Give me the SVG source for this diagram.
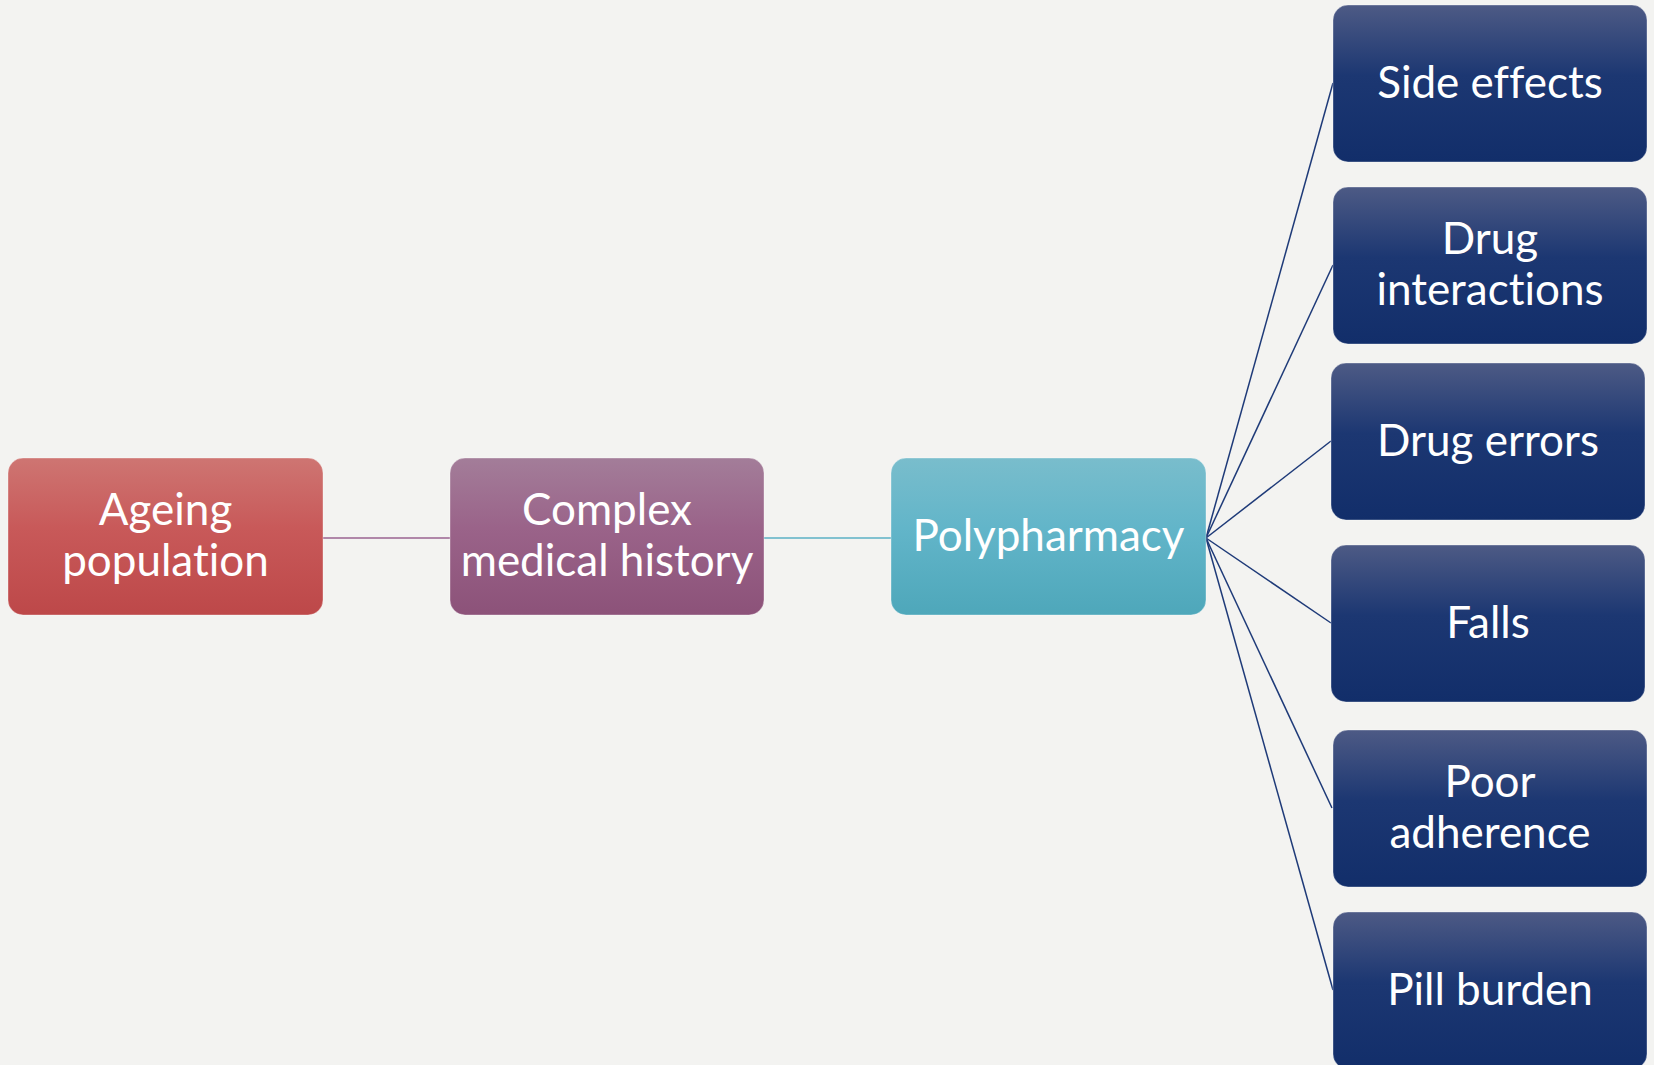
<svg xmlns="http://www.w3.org/2000/svg" width="1654" height="1065" viewBox="0 0 1654 1065">
<style>
.lbl{font-family:Lato,"Open Sans","Liberation Sans",sans-serif;font-size:44px;fill:#fff;text-anchor:middle;font-variant-ligatures:none;font-feature-settings:"liga" 0,"clig" 0}
.box{stroke:#fff;stroke-opacity:0.35;stroke-width:1}
.fan{stroke:#1E3A78;stroke-width:1.5;fill:none}
</style>
<defs>
<linearGradient id="gRed" x1="0" y1="0" x2="0" y2="1"><stop offset="0" stop-color="#CE7572"/><stop offset="0.45" stop-color="#C85959"/><stop offset="1" stop-color="#BD4849"/></linearGradient>
<linearGradient id="gPur" x1="0" y1="0" x2="0" y2="1"><stop offset="0" stop-color="#A37D99"/><stop offset="0.45" stop-color="#9A6389"/><stop offset="1" stop-color="#8C5279"/></linearGradient>
<linearGradient id="gTeal" x1="0" y1="0" x2="0" y2="1"><stop offset="0" stop-color="#79BDCC"/><stop offset="0.45" stop-color="#62B5C9"/><stop offset="1" stop-color="#4EA7BA"/></linearGradient>
<linearGradient id="gNavy" x1="0" y1="0" x2="0" y2="1"><stop offset="0" stop-color="#4D5A85"/><stop offset="0.45" stop-color="#1C3772"/><stop offset="1" stop-color="#122E6A"/></linearGradient>
</defs>
<rect width="1654" height="1065" fill="#F3F3F1"/>
<g id="connectors">
<line x1="323" y1="538" x2="450" y2="538" stroke="#9A6390" stroke-width="1.5"/>
<line x1="764" y1="538" x2="891" y2="538" stroke="#5BB0C4" stroke-width="1.5"/>
<line class="fan" x1="1206" y1="538" x2="1333" y2="83"/>
<line class="fan" x1="1206" y1="538" x2="1333" y2="265"/>
<line class="fan" x1="1206" y1="538" x2="1331" y2="441"/>
<line class="fan" x1="1206" y1="538" x2="1331" y2="623"/>
<line class="fan" x1="1206" y1="538" x2="1332" y2="808"/>
<line class="fan" x1="1206" y1="538" x2="1333" y2="990"/>
</g>
<g id="ageing">
<rect class="box" x="8" y="458" width="315" height="157" rx="15" fill="url(#gRed)"/>
<text class="lbl" x="165.5" y="525">Ageing</text>
<text class="lbl" x="165.5" y="576">population</text>
</g>
<g id="complex">
<rect class="box" x="450" y="458" width="314" height="157" rx="15" fill="url(#gPur)"/>
<text class="lbl" x="607" y="525">Complex</text>
<text class="lbl" x="607" y="576">medical history</text>
</g>
<g id="poly">
<rect class="box" x="891" y="458" width="315" height="157" rx="15" fill="url(#gTeal)"/>
<text class="lbl" x="1048.5" y="551">Polypharmacy</text>
</g>
<g id="side-effects">
<rect class="box" x="1333" y="5" width="314" height="157" rx="15" fill="url(#gNavy)"/>
<text class="lbl" x="1490" y="98">Side effects</text>
</g>
<g id="drug-interactions">
<rect class="box" x="1333" y="187" width="314" height="157" rx="15" fill="url(#gNavy)"/>
<text class="lbl" x="1490" y="254">Drug</text>
<text class="lbl" x="1490" y="305">interactions</text>
</g>
<g id="drug-errors">
<rect class="box" x="1331" y="363" width="314" height="157" rx="15" fill="url(#gNavy)"/>
<text class="lbl" x="1488" y="456">Drug errors</text>
</g>
<g id="falls">
<rect class="box" x="1331" y="545" width="314" height="157" rx="15" fill="url(#gNavy)"/>
<text class="lbl" x="1488" y="638">Falls</text>
</g>
<g id="poor-adherence">
<rect class="box" x="1333" y="730" width="314" height="157" rx="15" fill="url(#gNavy)"/>
<text class="lbl" x="1490" y="797">Poor</text>
<text class="lbl" x="1490" y="848">adherence</text>
</g>
<g id="pill-burden">
<rect class="box" x="1333" y="912" width="314" height="157" rx="15" fill="url(#gNavy)"/>
<text class="lbl" x="1490" y="1005">Pill burden</text>
</g>
</svg>
